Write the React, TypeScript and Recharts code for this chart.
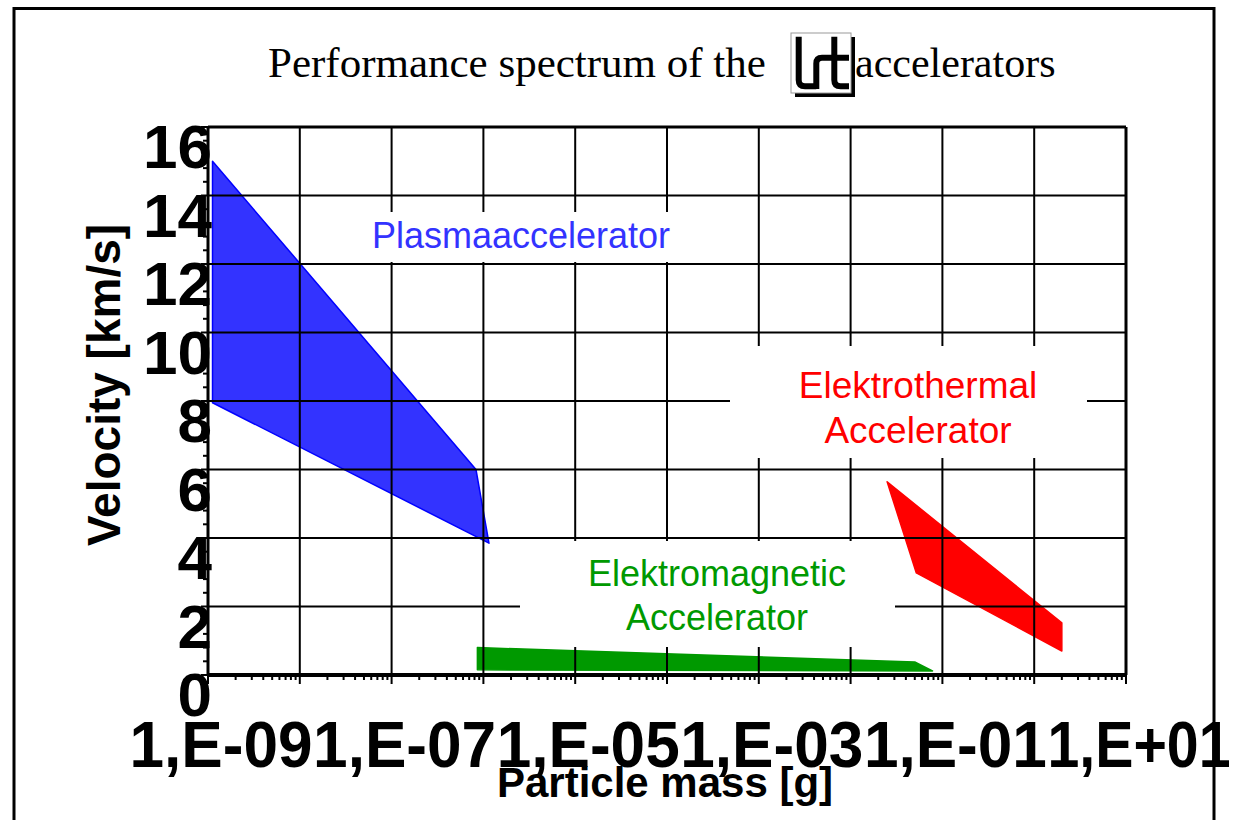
import React from 'react';
import { ScatterChart, Scatter, XAxis, YAxis, ReferenceLine } from 'recharts';

// ---- data (particle mass in g, velocity in km/s) ----
const plasmaMass = [1.12e-9, 8.3e-7, 1.15e-6, 1.12e-9];
const plasmaVelocity = [15.0, 6.0, 3.85, 7.95];

const emMass = [8.6e-7, 5.0e-2, 7.8e-2, 8.6e-7];
const emVelocity = [0.8, 0.38, 0.12, 0.15];

const etMass = [2.5e-2, 2.0, 2.0, 5.2e-2];
const etVelocity = [5.64, 1.52, 0.7, 2.98];

// ---- axes ----
const xDecades = [1e-9, 1e-8, 1e-7, 1e-6, 1e-5, 1e-4, 1e-3, 1e-2, 1e-1, 1, 10];
const xMinorFactors = [2, 3, 4, 5, 6, 7, 8, 9];
const xLabelValues = [1e-9, 1e-7, 1e-5, 1e-3, 1e-1, 10];
const xTickLabels = ['1,E-09', '1,E-07', '1,E-05', '1,E-03', '1,E-01', '1,E+01'];
const xGridValues = [1e-8, 1e-7, 1e-6, 1e-5, 1e-4, 1e-3, 1e-2, 1e-1, 1];

const yMajorTicks = [0, 2, 4, 6, 8, 10, 12, 14, 16];
const yMinorStep = 0.4;
const yGridValues = [2, 4, 6, 8, 10, 12, 14];

const toPoints = (m: number[], v: number[]) => m.map((mm, i) => ({ m: mm, v: v[i] }));
const plasmaData = toPoints(plasmaMass, plasmaVelocity);
const emData = toPoints(emMass, emVelocity);
const etData = toPoints(etMass, etVelocity);

const xMinorTicks: number[] = [];
xDecades.slice(0, -1).forEach((d) => xMinorFactors.forEach((f) => xMinorTicks.push(d * f)));
const xAllTicks = [...xDecades, ...xMinorTicks].sort((a, b) => a - b);
const yAllTicks: number[] = [];
for (let i = 0; i <= 40; i++) yAllTicks.push(+(i * yMinorStep).toFixed(1));

const SANS = '"Liberation Sans", Arial, Helvetica, sans-serif';
const SERIF = '"Liberation Serif", "Times New Roman", Times, serif';

const sameLog = (a: number, b: number) => Math.abs(Math.log10(a) - Math.log10(b)) < 1e-6;

const XTick = (props: any) => {
  const { x, y, payload } = props;
  const v = payload.value;
  const major = xDecades.some((d) => sameLog(d, v));
  const li = xLabelValues.findIndex((t) => sameLog(t, v));
  return (
    <g>
      <line x1={x} x2={x} y1={y} y2={y + (major ? 9 : 5)} stroke="#000" strokeWidth={2} />
      {li >= 0 && (
        <text
          x={x + 13}
          y={y + 92}
          textAnchor="middle"
          fontSize={64}
          fontWeight="bold"
          fontFamily={SANS}
          fill="#000"
          textLength={183}
          lengthAdjust="spacingAndGlyphs"
        >
          {xTickLabels[li]}
        </text>
      )}
    </g>
  );
};

const YTick = (props: any) => {
  const { x, y, payload } = props;
  const v = payload.value;
  const major = yMajorTicks.includes(v);
  return (
    <g>
      <line x1={x} x2={x - (major ? 7 : 5)} y1={y} y2={y} stroke="#000" strokeWidth={2} />
      {major && (
        <text x={x + 4} y={y + 41} textAnchor="end" fontSize={62} fontWeight="bold" fontFamily={SANS} fill="#000">
          {v}
        </text>
      )}
    </g>
  );
};

const polygonLine = (fill: string, stroke: string) => (props: any) => {
  const pts = (props.points || []).map((p: any) => `${p.x},${p.y}`).join(' ');
  return <polygon points={pts} fill={fill} stroke={stroke} strokeWidth={1.5} strokeLinejoin="round" />;
};
const noShape = () => <g />;

export default function App() {
  return (
    <div style={{ position: 'absolute', left: 0, top: 0, width: 1240, height: 820, background: '#fff', overflow: 'hidden' }}>
      <div style={{ position: 'absolute', left: 0, top: 0 }}>
        <ScatterChart width={1240} height={820} margin={{ top: 127, right: 114, bottom: 105, left: 108 }}>
          <XAxis
            type="number"
            dataKey="m"
            scale="log"
            domain={[1e-9, 10]}
            allowDataOverflow
            ticks={xAllTicks}
            interval={0}
            tickSize={0}
            tickMargin={0}
            tickLine={false}
            tick={XTick}
            axisLine={{ stroke: '#000', strokeWidth: 4 }}
            height={40}
          />
          <YAxis
            type="number"
            dataKey="v"
            domain={[0, 16]}
            allowDataOverflow
            ticks={yAllTicks}
            interval={0}
            tickSize={0}
            tickMargin={0}
            tickLine={false}
            tick={YTick}
            axisLine={{ stroke: '#000', strokeWidth: 3 }}
            width={100}
          />
          <Scatter data={plasmaData} fill="#3333ff" line={polygonLine('#3333ff', '#0000ff')} lineType="joint" shape={noShape} isAnimationActive={false} />
          <Scatter data={emData} fill="#009900" line={polygonLine('#009900', '#009900')} lineType="joint" shape={noShape} isAnimationActive={false} />
          <Scatter data={etData} fill="#ff0000" line={polygonLine('#ff0000', '#ff0000')} lineType="joint" shape={noShape} isAnimationActive={false} />
          {xGridValues.map((g) => (
            <ReferenceLine key={'vx' + g} x={g} stroke="#000" strokeWidth={2} zIndex={700} />
          ))}
          {yGridValues.map((g) => (
            <ReferenceLine key={'hy' + g} y={g} stroke="#000" strokeWidth={2} zIndex={700} />
          ))}
          <ReferenceLine y={16} stroke="#000" strokeWidth={3} zIndex={700} />
          <ReferenceLine x={10} stroke="#000" strokeWidth={3} zIndex={700} />
        </ScatterChart>
      </div>
      <svg width={1240} height={820} style={{ position: 'absolute', left: 0, top: 0, pointerEvents: 'none' }}>
        {/* label backgrounds */}
        <rect x={356} y={212} width={332} height={50} fill="#fff" />
        <rect x={730} y={346} width={357} height={112} fill="#fff" />
        <rect x={520} y={541} width={375} height={106} fill="#fff" />

        <text x={521} y={248} textAnchor="middle" fontSize={36} fontFamily={SANS} fill="#3333ff">Plasmaaccelerator</text>
        <text x={918} y={398} textAnchor="middle" fontSize={37} fontFamily={SANS} fill="#ff0000">Elektrothermal</text>
        <text x={918} y={443} textAnchor="middle" fontSize={37} fontFamily={SANS} fill="#ff0000">Accelerator</text>
        <text x={717} y={586} textAnchor="middle" fontSize={36} fontFamily={SANS} fill="#009900">Elektromagnetic</text>
        <text x={717} y={630} textAnchor="middle" fontSize={36} fontFamily={SANS} fill="#009900">Accelerator</text>

        {/* axis titles */}
        <text transform="translate(120,385) rotate(-90)" textAnchor="middle" fontSize={46} fontWeight="bold" fontFamily={SANS} fill="#000">
          Velocity [km/s]
        </text>
        <text x={665} y={797} textAnchor="middle" fontSize={42} fontWeight="bold" fontFamily={SANS} fill="#000">
          Particle mass [g]
        </text>

        {/* title */}
        <text x={268} y={77} fontSize={43} fontFamily={SERIF} fill="#000">Performance spectrum of the</text>
        <rect x={795} y={37} width={60} height={60} fill="#000" />
        <rect x={791} y={33} width={60} height={60} fill="#fff" stroke="#999" strokeWidth={1} />
        <g fill="none" stroke="#000" strokeWidth={6}>
          <path d="M798.7 36.7 V80 Q798.7 86.3 805 86.3 H816.3" />
          <path d="M816.3 89 V63.5 Q816.3 57.7 822 57.7 H849" />
          <path d="M834.3 36.7 V80 Q834.3 86.3 840.6 86.3 H849" />
        </g>
        <text x={855} y={77} fontSize={42} fontFamily={SERIF} fill="#000">accelerators</text>

        {/* outer frame */}
        <rect x={14} y={8.5} width={1200} height={900} fill="none" stroke="#000" strokeWidth={3} />
      </svg>
    </div>
  );
}
